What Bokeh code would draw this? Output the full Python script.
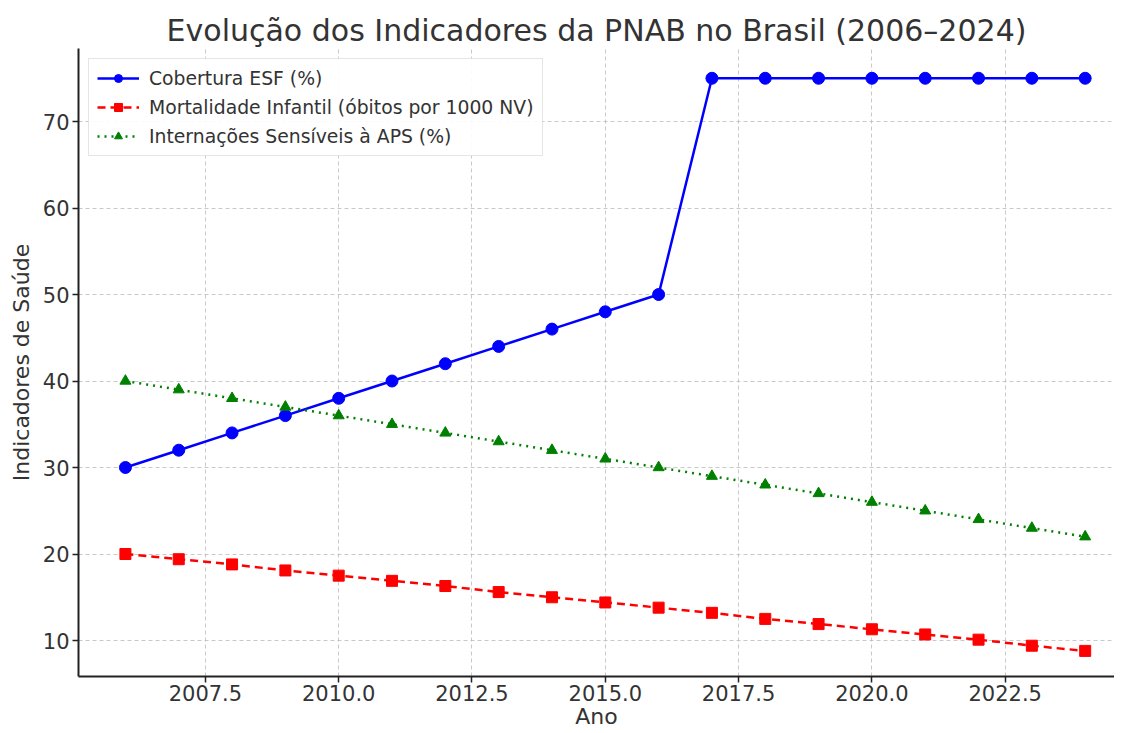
from bokeh.plotting import figure
from bokeh.models import Range1d, FixedTicker, Legend, LegendItem, CustomJSTickFormatter
from bokeh.embed import file_html
from bokeh.resources import INLINE

anos = list(range(2006, 2025))
cobertura_esf = [30, 32, 34, 36, 38, 40, 42, 44, 46, 48, 50, 75, 75, 75, 75, 75, 75, 75, 75]
mortalidade_infantil = [20.0, 19.4, 18.8, 18.1, 17.5, 16.9, 16.3, 15.6, 15.0, 14.4, 13.8,
                        13.2, 12.5, 11.9, 11.3, 10.7, 10.1, 9.4, 8.8]
internacoes_aps = [40, 39, 38, 37, 36, 35, 34, 33, 32, 31, 30, 29, 28, 27, 26, 25, 24, 23, 22]
x_ticks = [2007.5, 2010.0, 2012.5, 2015.0, 2017.5, 2020.0, 2022.5]
y_ticks = [10, 20, 30, 40, 50, 60, 70]

FONT = "DejaVu Sans"

p = figure(frame_width=1036, frame_height=628, output_backend="svg", toolbar_location=None,
           x_range=Range1d(2005.12, 2024.55), y_range=Range1d(5.84, 78.44),
           min_border_left=78, min_border_right=0, min_border_top=48, min_border_bottom=0)

p.title.text = "Evolução dos Indicadores da PNAB no Brasil (2006–2024)"
p.title.align = "center"
p.title.text_font = FONT
p.title.text_font_size = "30px"
p.title.text_font_style = "normal"
p.title.text_color = "#333333"
p.title.standoff = 2

p.outline_line_color = None
p.background_fill_color = "white"
p.border_fill_color = "white"

for ax in (p.xaxis[0], p.yaxis[0]):
    ax.axis_line_color = "#222222"
    ax.axis_line_width = 2
    ax.major_tick_line_color = "#222222"
    ax.major_tick_line_width = 1.5
    ax.major_tick_out = 6
    ax.major_tick_in = 0
    ax.minor_tick_line_color = None
    ax.major_label_text_font = FONT
    ax.major_label_text_font_size = "21px"
    ax.major_label_text_color = "#333333"
    ax.major_label_standoff = 2
    ax.axis_label_text_font = FONT
    ax.axis_label_text_font_size = "22px"
    ax.axis_label_text_font_style = "normal"
    ax.axis_label_text_color = "#333333"
    ax.axis_label_standoff = 0

p.xaxis.ticker = FixedTicker(ticks=x_ticks)
p.xaxis.formatter = CustomJSTickFormatter(code="return tick.toFixed(1);")
p.yaxis.ticker = FixedTicker(ticks=y_ticks)
p.xaxis.axis_label = "Ano"
p.yaxis.axis_label = "Indicadores de Saúde"
p.yaxis.axis_label_standoff = 6
p.yaxis.major_label_standoff = 3

p.grid.grid_line_color = "#bbbbbb"
p.grid.grid_line_dash = "4 3"
p.grid.grid_line_width = 1
p.grid.grid_line_alpha = 0.8

l1 = p.line(anos, cobertura_esf, line_color="blue", line_width=2.5)
s1 = p.scatter(anos, cobertura_esf, marker="circle", size=12, fill_color="blue", line_color="blue")
l2 = p.line(anos, mortalidade_infantil, line_color="red", line_width=2.5, line_dash="8 5")
s2 = p.scatter(anos, mortalidade_infantil, marker="square", size=11, fill_color="red", line_color="red")
l3 = p.line(anos, internacoes_aps, line_color="green", line_width=2.5, line_dash="2 5")
s3 = p.scatter(anos, internacoes_aps, marker="triangle", size=11, fill_color="green", line_color="green")

legend = Legend(items=[
    LegendItem(label="Cobertura ESF (%)", renderers=[l1, s1]),
    LegendItem(label="Mortalidade Infantil (óbitos por 1000 NV)", renderers=[l2, s2]),
    LegendItem(label="Internações Sensíveis à APS (%)", renderers=[l3, s3]),
], location="top_left")
legend.label_text_font = FONT
legend.label_text_font_size = "18.8px"
legend.label_text_color = "#333333"
legend.label_height = 22
legend.label_standoff = 10
legend.border_line_color = "#cccccc"
legend.border_line_width = 1.5
legend.background_fill_alpha = 0.9
legend.glyph_width = 42
legend.spacing = 7
legend.padding = 8
legend.margin = 10
p.add_layout(legend)

open("out.html", "w").write(file_html(p, INLINE))
